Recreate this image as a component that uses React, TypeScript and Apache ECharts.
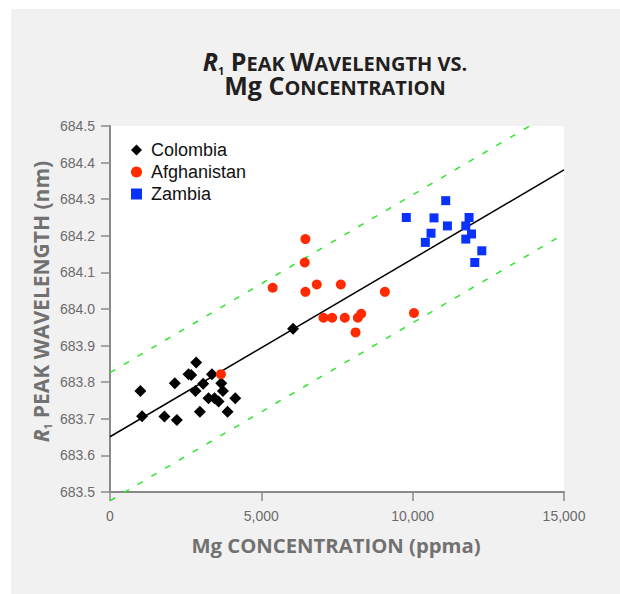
import React, { useEffect, useRef } from 'react';
import * as echarts from 'echarts';

// Mg concentration (ppma) vs. R1 peak wavelength (nm)
const colombia: [number, number][] = [
  [1003, 683.776], [1060, 683.707], [1798, 683.706], [2209, 683.697],
  [2142, 683.797], [2593, 683.822], [2682, 683.82], [2848, 683.854],
  [3367, 683.822], [3079, 683.796], [2824, 683.776], [2970, 683.719],
  [3255, 683.756], [3453, 683.756], [3586, 683.747], [3675, 683.797],
  [3732, 683.776], [3884, 683.719], [4139, 683.756], [6049, 683.946],
];
const afghanistan: [number, number][] = [
  [6456, 684.191], [6434, 684.127], [5375, 684.058], [6456, 684.047],
  [6831, 684.067], [7626, 684.067], [9082, 684.047], [7053, 683.976],
  [7340, 683.976], [7758, 683.976], [8189, 683.976], [8300, 683.987],
  [8113, 683.936], [10043, 683.989], [3665, 683.822],
];
const zambia: [number, number][] = [
  [11092, 684.296], [9790, 684.25], [10705, 684.249], [11864, 684.25],
  [11148, 684.227], [11755, 684.227], [10606, 684.207], [11943, 684.205],
  [10419, 684.182], [11755, 684.191], [12284, 684.159], [12052, 684.127],
];

// Linear fit and its prediction band
const fitIntercept = 683.651;
const fitSlope = 0.0000486;
const bandHalfWidth = 0.175;
const xRange: [number, number] = [0, 15000];
const yRange: [number, number] = [683.5, 684.5];

const fitLine = (offset: number) =>
  xRange.map((x) => [x, fitIntercept + fitSlope * x + offset]);

const TITLE_FONT = 'Open Sans';
const LABEL_FONT = 'Liberation Sans';
const TITLE_COLOR = '#231f20';
const NAME_COLOR = '#717171';
const NBSP = '\u00a0';

export default function App() {
  const ref = useRef<HTMLDivElement>(null);

  useEffect(() => {
    const chart = echarts.init(ref.current!, null, { renderer: 'svg' });

    // Small-caps title: large capitals and smaller capitals sharing a baseline,
    // with a dropped subscript after the italic R.
    const bold = { fontFamily: TITLE_FONT, fontWeight: 'bold', verticalAlign: 'bottom' };
    const titleRich = {
      ri: { ...bold, fontStyle: 'italic', fontSize: 25, lineHeight: 25, padding: [0, 0, 5, 0], fill: TITLE_COLOR },
      sub: { ...bold, fontSize: 11, lineHeight: 6, padding: [0, 0, 3, 0], fill: TITLE_COLOR },
      cap: { ...bold, fontSize: 25, lineHeight: 25, padding: [0, 0, 5, 0], fill: TITLE_COLOR },
      sc: { ...bold, fontSize: 20, lineHeight: 20, padding: [0, 0, 5, 0], fill: TITLE_COLOR },
    };

    const axisNameRich = {
      ri: { ...bold, fontStyle: 'italic', fontSize: 21, lineHeight: 21, padding: [0, 0, 4, 0], fill: NAME_COLOR },
      sub: { ...bold, fontSize: 10, lineHeight: 5, padding: [0, 0, 2, 0], fill: NAME_COLOR },
      n: { ...bold, fontSize: 21, lineHeight: 21, padding: [0, 0, 4, 0], fill: NAME_COLOR },
    };
    const xNameRich = {
      n: { ...axisNameRich.n, fontSize: 20.3, lineHeight: 20.3 },
    };

    chart.setOption({
      animation: false,
      backgroundColor: '#ffffff',
      graphic: [
        { type: 'rect', z: -10, silent: true, shape: { x: 11, y: 9, width: 620, height: 600 }, style: { fill: '#f1f1f1' } },
        {
          type: 'text', x: 335, y: 53.8,
          style: {
            text: `{ri|R}{sub|1}{cap|${NBSP}P}{sc|EAK${NBSP}}{cap|W}{sc|AVELENGTH${NBSP}VS.}`,
            rich: titleRich, align: 'center', verticalAlign: 'top',
          },
        },
        {
          type: 'text', x: 335, y: 77.1,
          style: {
            text: `{cap|Mg${NBSP}C}{sc|ONCENTRATION}`,
            rich: titleRich, align: 'center', verticalAlign: 'top',
          },
        },
        {
          type: 'text', x: 336, y: 538.8,
          style: { text: '{n|Mg CONCENTRATION (ppma)}', rich: xNameRich, align: 'center', verticalAlign: 'top' },
        },
        {
          type: 'text', x: 34.3, y: 301.5, rotation: Math.PI / 2,
          style: { text: `{ri|R}{sub|1}{n|${NBSP}PEAK WAVELENGTH (nm)}`, rich: axisNameRich, align: 'center', verticalAlign: 'top' },
        },
      ],
      grid: {
        left: 110, right: 56, top: 126, bottom: 102,
        show: true, backgroundColor: '#ffffff', borderWidth: 0,
      },
      legend: {
        orient: 'vertical', left: 126, top: 136,
        itemWidth: 11, itemHeight: 11, itemGap: 4,
        textStyle: { fontFamily: LABEL_FONT, fontSize: 18, lineHeight: 18, color: '#111111', padding: [0, 0, 0, 4] },
        data: ['Colombia', 'Afghanistan', 'Zambia'],
      },
      xAxis: {
        type: 'value', min: xRange[0], max: xRange[1], interval: 5000,
        axisLine: { show: true, lineStyle: { color: '#8a8a8a', width: 2 } },
        axisTick: { show: true, length: 9, lineStyle: { color: '#8a8a8a', width: 1.5 } },
        axisLabel: {
          margin: 17, fontFamily: LABEL_FONT, fontSize: 14, color: '#6b6b6b',
          formatter: (v: number) => v.toLocaleString('en-US'),
        },
        splitLine: { show: false },
      },
      yAxis: {
        type: 'value', min: yRange[0], max: yRange[1], interval: 0.1,
        axisLine: { show: true, lineStyle: { color: '#8a8a8a', width: 2 } },
        axisTick: { show: true, length: 9, lineStyle: { color: '#8a8a8a', width: 1.5 } },
        axisLabel: {
          margin: 15, fontFamily: LABEL_FONT, fontSize: 14, color: '#6b6b6b',
          formatter: (v: number) => v.toFixed(1),
        },
        splitLine: { show: false },
      },
      series: [
        {
          type: 'line', data: fitLine(bandHalfWidth), symbol: 'none', silent: true, z: 1,
          lineStyle: { color: '#2ee62e', width: 1.5, type: [6, 10] },
        },
        {
          type: 'line', data: fitLine(-bandHalfWidth), symbol: 'none', silent: true, z: 1, clip: false,
          lineStyle: { color: '#2ee62e', width: 1.5, type: [6, 10] },
        },
        {
          type: 'line', data: fitLine(0), symbol: 'none', silent: true, z: 1,
          lineStyle: { color: '#000000', width: 1.5 },
        },
        {
          name: 'Colombia', type: 'scatter', data: colombia, symbol: 'diamond', symbolSize: 12, z: 3,
          itemStyle: { color: '#000000', opacity: 1 },
        },
        {
          name: 'Afghanistan', type: 'scatter', data: afghanistan, symbol: 'circle', symbolSize: 10, z: 4,
          itemStyle: { color: '#ff2a00', opacity: 1 },
        },
        {
          name: 'Zambia', type: 'scatter', data: zambia, symbol: 'rect', symbolSize: 9, z: 4,
          itemStyle: { color: '#0a32ff', opacity: 1 },
        },
      ],
    });

    return () => chart.dispose();
  }, []);

  return (
    <div
      ref={ref}
      style={{ position: 'absolute', left: 0, top: 0, width: 620, height: 594 }}
    />
  );
}
